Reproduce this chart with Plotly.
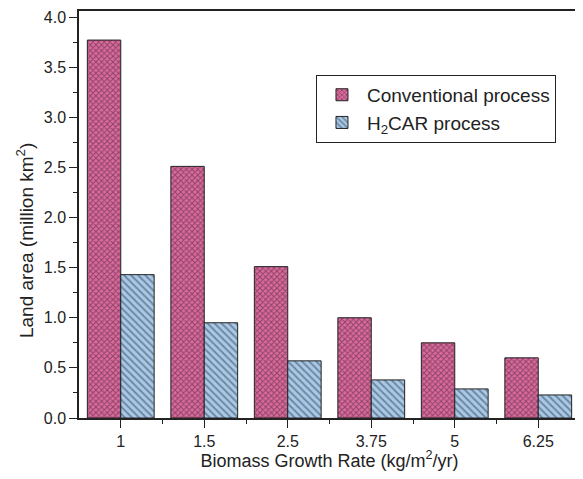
import plotly.graph_objects as go

categories = ["1", "1.5", "2.5", "3.75", "5", "6.25"]
conventional = [3.77, 2.51, 1.51, 1.0, 0.75, 0.60]
h2car = [1.43, 0.95, 0.57, 0.38, 0.29, 0.23]
series_names = ["Conventional process", "H<sub>2</sub>CAR process"]

xpos = list(range(len(categories)))

fig = go.Figure()
fig.add_trace(go.Bar(
    x=xpos, y=conventional, name=series_names[0],
    marker=dict(color="#dc6a9e", line=dict(color="#222222", width=1),
                pattern=dict(shape="x", fgcolor="#3a1f2c", size=4, solidity=0.45)),
))
fig.add_trace(go.Bar(
    x=xpos, y=h2car, name=series_names[1],
    marker=dict(color="#a9c9e6", line=dict(color="#222222", width=1),
                pattern=dict(shape="\\", fgcolor="#34465c", size=5, solidity=0.4)),
))

font_family = "Liberation Sans, Arial, sans-serif"
fig.update_layout(
    width=575, height=463,
    margin=dict(l=71, r=1, t=3, b=53),
    paper_bgcolor="white", plot_bgcolor="white",
    barmode="group", bargap=0.2, bargroupgap=0,
    font=dict(family=font_family, size=16, color="#222222"),
    showlegend=True,
    legend=dict(x=0.473, y=0.843, xanchor="left", yanchor="top",
                bordercolor="#222222", borderwidth=1, bgcolor="white",
                font=dict(size=19), tracegroupgap=0, itemwidth=40),
    xaxis=dict(
        range=[-0.5, 5.5], tickmode="array", tickvals=xpos, ticktext=categories,
        ticks="outside", ticklen=8, tickwidth=1, tickcolor="#222222",
        showline=True, linecolor="#222222", linewidth=1.5, mirror=True,
        showgrid=False, zeroline=False,
        minor=dict(tickmode="array", tickvals=[i + 0.5 for i in xpos[:-1]],
                   ticks="outside", ticklen=4, tickcolor="#222222", showgrid=False),
        title=dict(text="Biomass Growth Rate (kg/m<sup>2</sup>/yr)", font=dict(size=18), standoff=6),
    ),
    yaxis=dict(
        range=[0, 4.06], tickmode="linear", tick0=0, dtick=0.5, tickformat=".1f",
        ticks="outside", ticklen=8, tickwidth=1, tickcolor="#222222",
        showline=True, linecolor="#222222", linewidth=1.5, mirror=True,
        showgrid=False, zeroline=False,
        minor=dict(dtick=0.25, ticks="outside", ticklen=4, tickcolor="#222222", showgrid=False),
    ),
    annotations=[dict(
        text="Land area (million km<sup>2</sup>)", textangle=-90,
        xref="paper", yref="paper", x=-0.108, y=0.437,
        xanchor="center", yanchor="middle", showarrow=False,
        font=dict(size=19, family=font_family, color="#222222"),
    )],
)

fig.write_html("out.html")
